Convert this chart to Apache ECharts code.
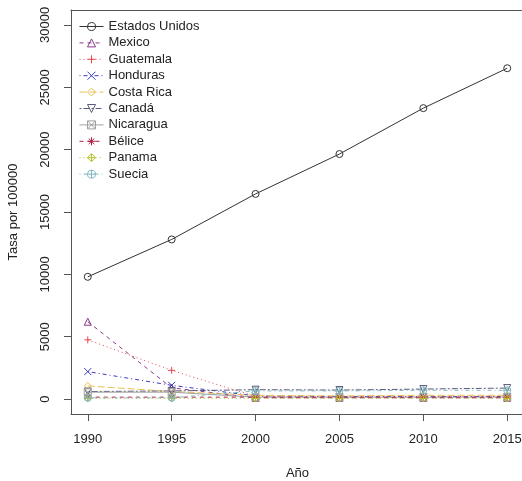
<!DOCTYPE html>
<html>
<head>
<meta charset="utf-8">
<script src="https://cdn.jsdelivr.net/npm/echarts@6/dist/echarts.min.js"></script>
<style>
  html, body { margin: 0; padding: 0; background: #fff; }
  #chart { width: 522px; height: 481px; }
</style>
</head>
<body>
<div id="chart"></div>
<script>
// Years on the x axis
const years = [1990, 1995, 2000, 2005, 2010, 2015];
const yTicks = [0, 5000, 10000, 15000, 20000, 25000, 30000];

// Rates per 100000 inhabitants
const estadosUnidos = [9800, 12800, 16450, 19650, 23330, 26530];
const mexico        = [6200, 900, 100, 100, 100, 100];
const guatemala     = [4750, 2300, 200, 150, 150, 250];
const honduras      = [2200, 1100, 250, 200, 200, 200];
const costaRica     = [1050, 600, 300, 250, 300, 300];
const canada        = [600, 650, 750, 720, 800, 880];
const nicaragua     = [550, 550, 150, 150, 150, 150];
const belice        = [150, 150, 150, 150, 150, 150];
const panama        = [50, 50, 50, 50, 50, 50];
const suecia        = [100, 100, 650, 650, 700, 700];

const countries = ['Estados Unidos', 'Mexico', 'Guatemala', 'Honduras', 'Costa Rica',
                   'Canadá', 'Nicaragua', 'Bélice', 'Panama', 'Suecia'];
const values = [estadosUnidos, mexico, guatemala, honduras, costaRica,
                canada, nicaragua, belice, panama, suecia];
const colors = ['#333333', '#8B3A8B', '#E8474F', '#3A3ABF', '#E8C050',
                '#5A5A7A', '#A0A0A0', '#B02040', '#B8C030', '#80B8C0'];

// R-style line types, cycling solid / dashed / dotted / dotdash / longdash / twodash
const dashes = ['solid', [4, 4], [1, 3], [1, 3, 4, 3], [7, 3], [2, 2, 6, 2],
                'solid', [4, 4], [1, 3], [1, 3, 4, 3]];

// R plotting characters 1..10 as outline paths
const symbols = [
  'path://M5 0 A5 5 0 1 1 4.99 0 Z',
  'path://M5 0.5 L9.5 9 L0.5 9 Z',
  'path://M5 0 L5 10 M0 5 L10 5',
  'path://M1 1 L9 9 M9 1 L1 9',
  'path://M5 0 L10 5 L5 10 L0 5 Z',
  'path://M0.5 1 L9.5 1 L5 9.5 Z',
  'path://M1 1 L9 1 L9 9 L1 9 Z M1 1 L9 9 M9 1 L1 9',
  'path://M5 0 L5 10 M0 5 L10 5 M1.5 1.5 L8.5 8.5 M8.5 1.5 L1.5 8.5',
  'path://M5 0 L10 5 L5 10 L0 5 Z M5 0 L5 10 M0 5 L10 5',
  'path://M5 0 A5 5 0 1 1 4.99 0 Z M5 0 L5 10 M0 5 L10 5'
];

const series = countries.map((name, i) => ({
  name: name,
  type: 'line',
  data: years.map((y, j) => [y, values[i][j]]),
  symbol: symbols[i],
  symbolSize: 7,
  showSymbol: true,
  animation: false,
  lineStyle: { color: colors[i], width: 1, type: dashes[i] },
  itemStyle: { color: 'rgba(0,0,0,0)', borderColor: colors[i], borderWidth: 1 }
}));

const font = 'Liberation Sans, Arial, sans-serif';
const plainNumber = v => String(v);
const axisGray = '#555';

const chart = echarts.init(document.getElementById('chart'), null, { renderer: 'canvas' });
chart.setOption({
  backgroundColor: '#ffffff',
  animation: false,
  grid: {
    left: 71, top: 10, width: 453, height: 404,
    outerBoundsMode: 'none',
    show: false
  },
  legend: {
    orient: 'vertical',
    left: 74, top: 15,
    itemWidth: 24, itemHeight: 10, itemGap: 3.4,
    itemStyle: { color: 'rgba(0,0,0,0)', borderColor: 'inherit', borderWidth: 1 },
    lineStyle: { width: 1 },
    textStyle: { fontFamily: font, fontSize: 13, color: '#222' },
    data: countries
  },
  xAxis: [{
    type: 'value',
    min: 1989, max: 2016,
    name: 'Año',
    nameLocation: 'middle',
    nameGap: 53,
    nameTextStyle: { fontFamily: font, fontSize: 13, color: '#222' },
    axisLine: { show: true, onZero: false, lineStyle: { color: axisGray } },
    axisTick: { show: true, length: 7, customValues: years, lineStyle: { color: axisGray } },
    axisLabel: { fontFamily: font, fontSize: 13, color: '#222', margin: 19,
                 customValues: years, formatter: plainNumber },
    splitLine: { show: false }
  }, {
    // top edge of the plot box
    type: 'value',
    position: 'top',
    min: 1989, max: 2016,
    axisLine: { show: true, onZero: false, lineStyle: { color: axisGray } },
    axisTick: { show: false },
    axisLabel: { show: false },
    splitLine: { show: false }
  }],
  yAxis: {
    type: 'value',
    min: -1200, max: 31200,
    name: 'Tasa por 100000',
    nameLocation: 'middle',
    nameGap: 51,
    nameTextStyle: { fontFamily: font, fontSize: 13, color: '#222' },
    axisLine: { show: true, lineStyle: { color: axisGray } },
    axisTick: { show: true, length: 7, customValues: yTicks, lineStyle: { color: axisGray } },
    axisLabel: { fontFamily: font, fontSize: 13, color: '#222', margin: 19, rotate: 90,
                 customValues: yTicks, formatter: plainNumber },
    splitLine: { show: false }
  },
  series: series
});
</script>
</body>
</html>
